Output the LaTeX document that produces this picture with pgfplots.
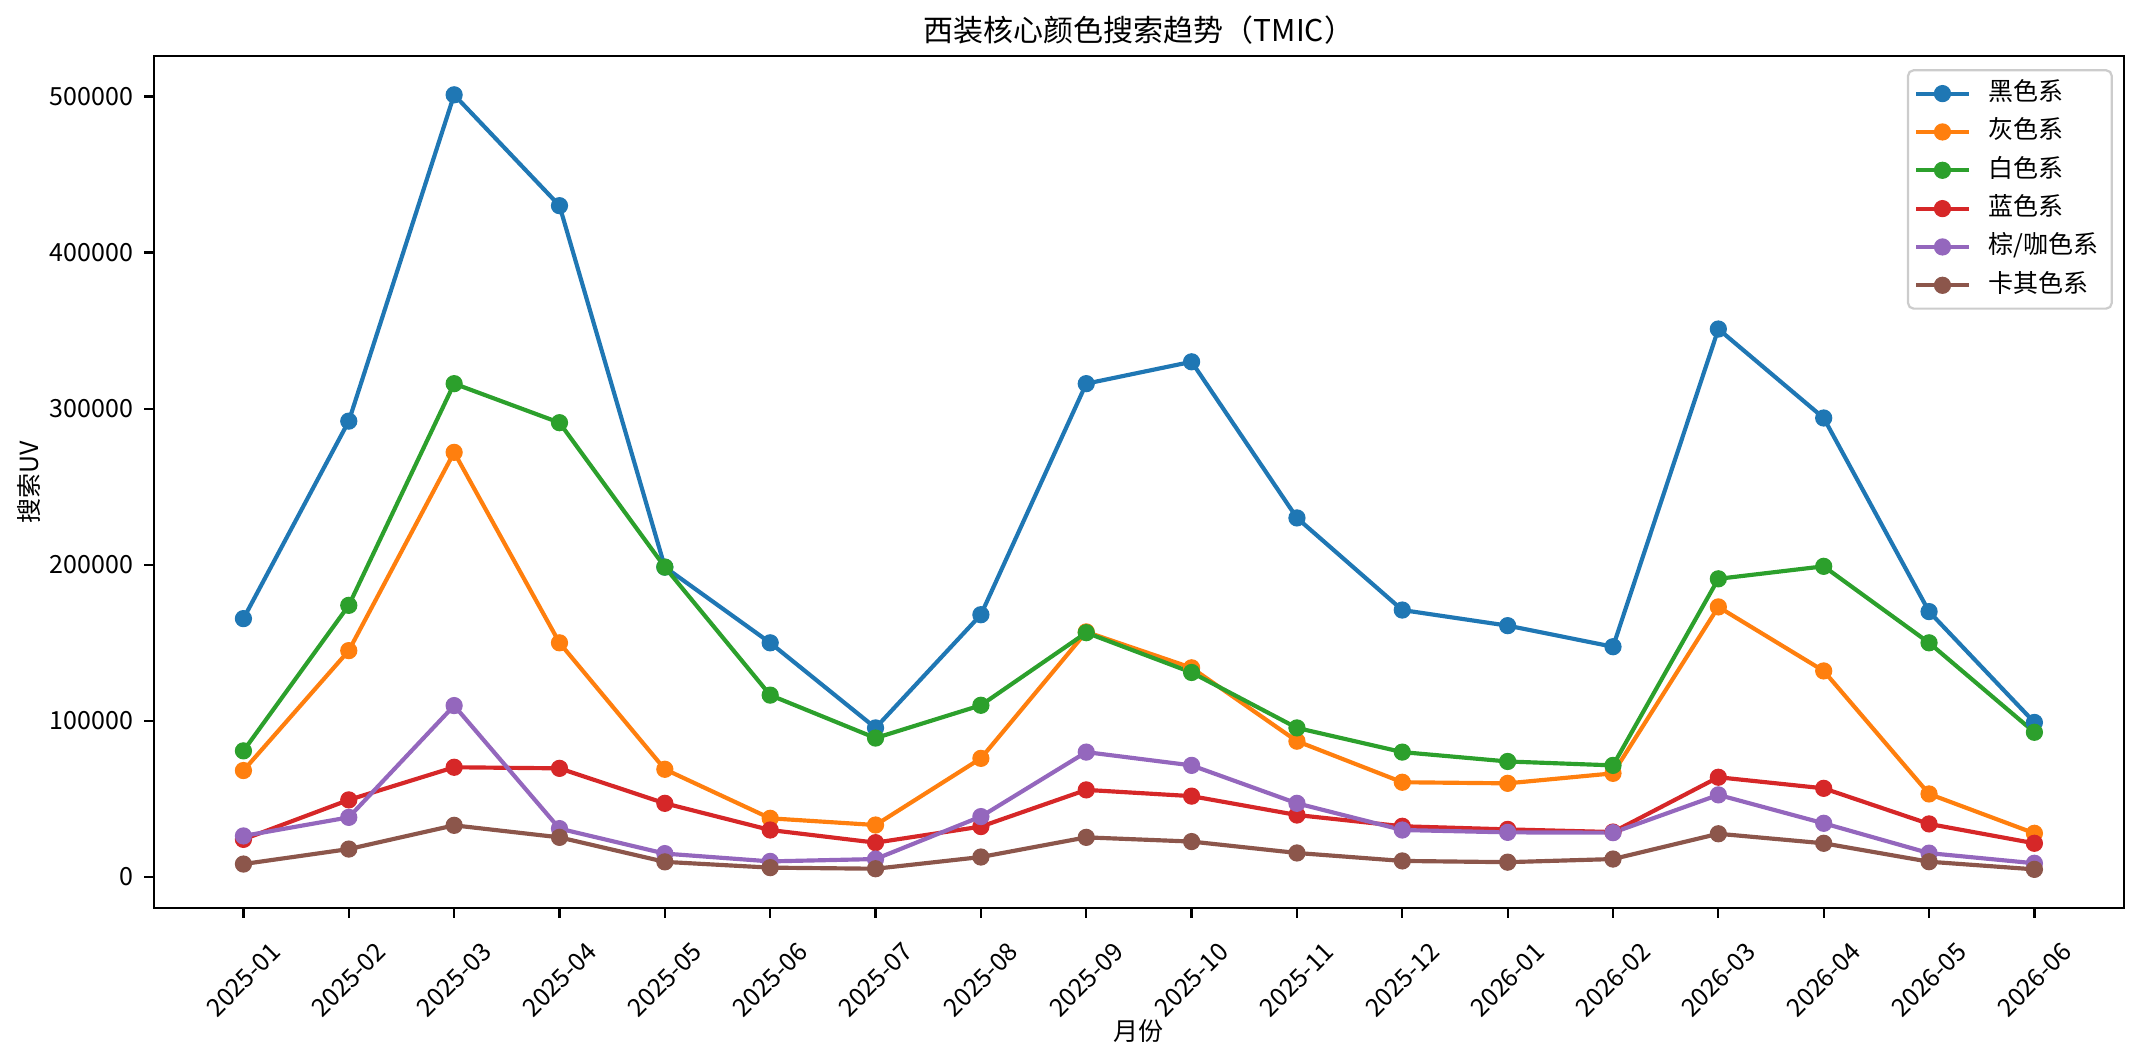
\documentclass[border=0pt]{standalone}
\usepackage{fontspec}
\setmainfont{Noto Sans CJK SC}
\usepackage{pgfplots}
\pgfplotsset{compat=1.18}
\definecolor{c1}{HTML}{1F77B4}
\definecolor{c2}{HTML}{FF7F0E}
\definecolor{c3}{HTML}{2CA02C}
\definecolor{c4}{HTML}{D62728}
\definecolor{c5}{HTML}{9467BD}
\definecolor{c6}{HTML}{8C564B}
\begin{document}
\begin{tikzpicture}
\path[use as bounding box] (-55.4pt,-55.8pt) rectangle (715.7pt,326.9pt);
\begin{axis}[
  at={(0,0)}, anchor=south west, scale only axis,
  width=709.2pt, height=306.7pt,
  xmin=-0.85, xmax=17.85, ymin=-19900, ymax=525800,
  scaled y ticks=false,
  xtick={0,...,17},
  xticklabels={2025-01,2025-02,2025-03,2025-04,2025-05,2025-06,2025-07,2025-08,2025-09,2025-10,2025-11,2025-12,2026-01,2026-02,2026-03,2026-04,2026-05,2026-06},
  ytick={0,100000,200000,300000,400000,500000},
  yticklabels={0,100000,200000,300000,400000,500000},
  tick align=outside, tick pos=left,
  major tick length=3.5pt,
  axis line style={line width=0.8pt},
  every tick/.style={black, line width=0.8pt},
  tick label style={font=\fontsize{9}{11}\selectfont},
  yticklabel style={xshift=-0.5pt},
  xticklabel style={anchor=center, yshift=-22.3pt, rotate=45},
  every axis title shift=0pt,
  title={西装核心颜色搜索趋势（TMIC）},
  title style={at={(rel axis cs:0.5,1)}, anchor=base, yshift=5.4pt, font=\fontsize{10.8}{13}\selectfont},
  xlabel={月份},
  xlabel style={at={(rel axis cs:0.5,0)}, anchor=center, yshift=-44.3pt, font=\fontsize{9}{11}\selectfont},
  ylabel={搜索UV},
  ylabel style={at={(rel axis cs:0,0.5)}, anchor=center, yshift=45pt, font=\fontsize{9}{11}\selectfont},
  legend cell align=left,
  legend style={at={(rel axis cs:1,1)}, anchor=north east, xshift=-4pt, yshift=-4.7pt,
    draw=black!20, line width=0.8pt, rounded corners=2pt, fill=white,
    font=\fontsize{9}{11}\selectfont, inner xsep=1.1pt, inner ysep=1.5pt, row sep=0pt,
    nodes={text height=7.2pt, text depth=2.2pt, inner ysep=2.2pt, inner xsep=3.6pt}},
  legend image code/.code={\path[draw=none,fill=none] (0pt,-1pt) rectangle (24.4pt,1pt);
    \draw[#1, mark=none, sharp corners] (1.8pt,0pt) -- (20.8pt,0pt);
    \draw[#1, only marks] plot coordinates {(11.3pt,0pt)};},
  every axis plot/.append style={line width=1.5pt, mark=*, mark size=2.9pt},
]
\addplot[c1, mark options={solid, fill=c1, draw=c1, line width=0.4pt}] coordinates {
(0,165500) (1,292000) (2,501000) (3,430000) (4,198500) (5,150000) (6,95500) (7,168000) (8,316000) (9,330000) (10,230000) (11,171000) (12,161000) (13,147500) (14,351000) (15,294000) (16,170000) (17,99000)};
\addlegendentry{黑色系}
\addplot[c2, mark options={solid, fill=c2, draw=c2, line width=0.4pt}] coordinates {
(0,68200) (1,145000) (2,272000) (3,150000) (4,69000) (5,37600) (6,33300) (7,76000) (8,157000) (9,134000) (10,87000) (11,60700) (12,60000) (13,66400) (14,173000) (15,132000) (16,53200) (17,28000)};
\addlegendentry{灰色系}
\addplot[c3, mark options={solid, fill=c3, draw=c3, line width=0.4pt}] coordinates {
(0,80800) (1,174000) (2,316000) (3,291000) (4,198500) (5,116500) (6,89000) (7,110000) (8,156500) (9,131000) (10,95500) (11,80000) (12,74000) (13,71500) (14,191000) (15,199000) (16,150000) (17,92700)};
\addlegendentry{白色系}
\addplot[c4, mark options={solid, fill=c4, draw=c4, line width=0.4pt}] coordinates {
(0,24100) (1,49400) (2,70300) (3,69600) (4,47200) (5,30100) (6,22000) (7,32300) (8,55800) (9,51800) (10,39700) (11,32500) (12,30500) (13,28800) (14,63900) (15,56800) (16,34000) (17,21600)};
\addlegendentry{蓝色系}
\addplot[c5, mark options={solid, fill=c5, draw=c5, line width=0.4pt}] coordinates {
(0,26300) (1,38200) (2,109800) (3,31000) (4,15000) (5,10000) (6,11500) (7,38700) (8,80000) (9,71500) (10,47200) (11,30100) (12,28600) (13,28400) (14,52600) (15,34400) (16,15300) (17,8800)};
\addlegendentry{棕/咖色系}
\addplot[c6, mark options={solid, fill=c6, draw=c6, line width=0.4pt}] coordinates {
(0,8300) (1,17900) (2,33100) (3,25400) (4,9700) (5,6000) (6,5300) (7,12800) (8,25400) (9,22700) (10,15400) (11,10300) (12,9500) (13,11500) (14,27700) (15,21600) (16,9800) (17,4900)};
\addlegendentry{卡其色系}
\end{axis}
\end{tikzpicture}
\end{document}
